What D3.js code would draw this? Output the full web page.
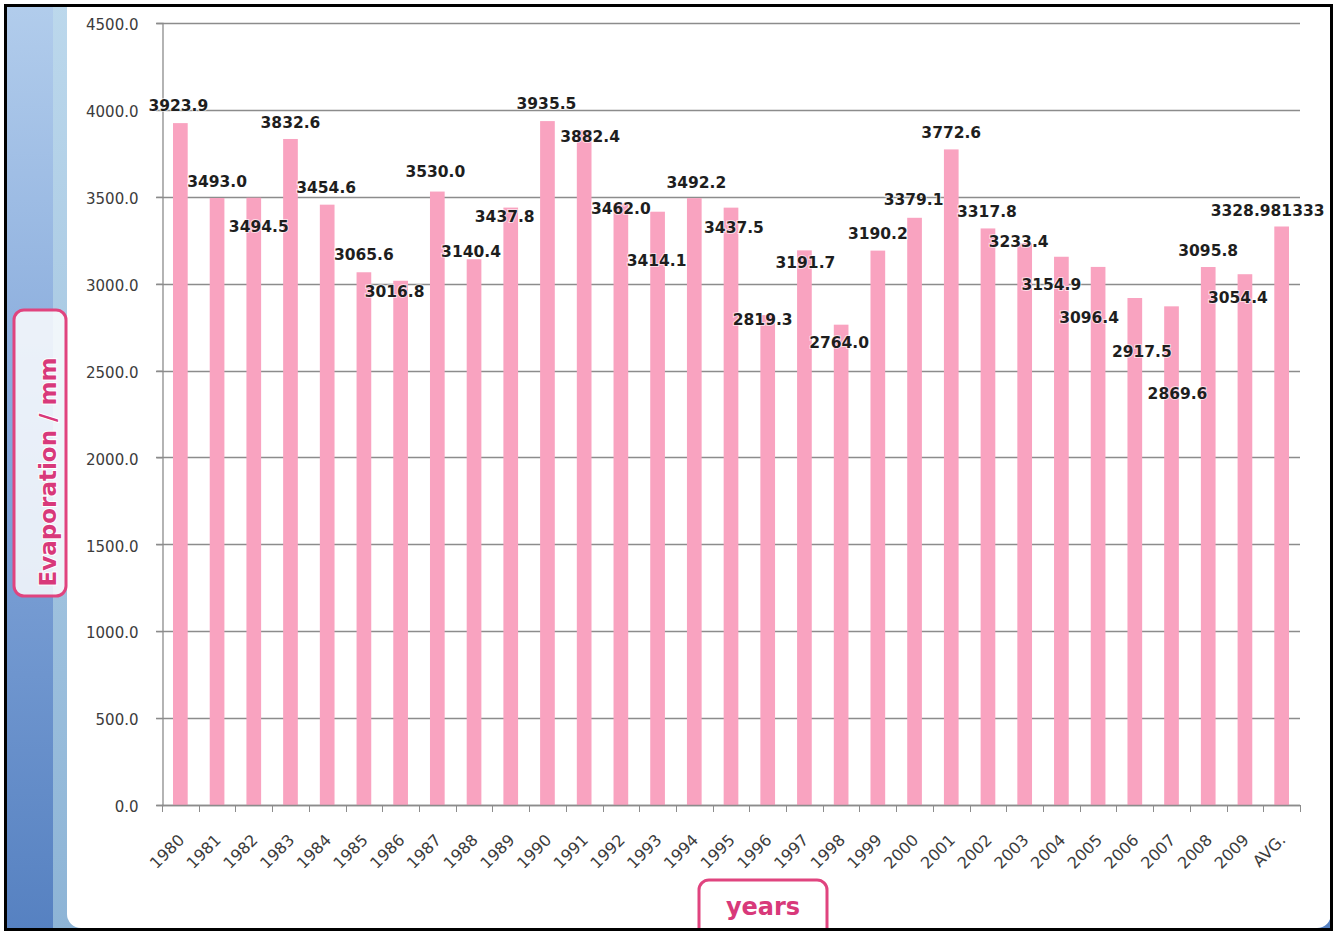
<!DOCTYPE html>
<html>
<head>
<meta charset="utf-8">
<script src="https://cdn.jsdelivr.net/npm/d3@7"></script>
<style>
body { margin: 0; background: #fff; }
</style>
</head>
<body>
<script>
var width = 1334;
var height = 931;

var years = ["1980", "1981", "1982", "1983", "1984", "1985", "1986", "1987", "1988", "1989",
             "1990", "1991", "1992", "1993", "1994", "1995", "1996", "1997", "1998", "1999",
             "2000", "2001", "2002", "2003", "2004", "2005", "2006", "2007", "2008", "2009", "AVG."];
var evaporation = [3923.9, 3493.0, 3494.5, 3832.6, 3454.6, 3065.6, 3016.8, 3530.0, 3140.4, 3437.8,
                   3935.5, 3882.4, 3462.0, 3414.1, 3492.2, 3437.5, 2819.3, 3191.7, 2764.0, 3190.2,
                   3379.1, 3772.6, 3317.8, 3233.4, 3154.9, 3096.4, 2917.5, 2869.6, 3095.8, 3054.4,
                   3328.981333];
var yTicks = [0, 500, 1000, 1500, 2000, 2500, 3000, 3500, 4000, 4500];

// the value labels were dragged by hand in the original, so nudge them (dx, dy in px)
var labelShift = [[-2, 0], [0, 1], [5, 47], [0, 1], [-1, 1], [0, 0], [-6, 29], [-2, -2], [-3, 10], [-6, 27],
                  [-1, 0], [6, 24], [0, 23], [-1, 67], [2, 2], [3, 38], [-5, 22], [1, 30], [-2, 36], [0, 1],
                  [-1, 0], [0, 1], [-1, 1], [-6, 16], [-10, 46], [-9, 69], [7, 71], [6, 105], [0, 1], [-7, 41],
                  [-14, 2]];

var pink = "#f9a3c0";
var titlePink = "#d8397a";

var svg = d3.select("body")
    .append("svg")
        .attr("width", width)
        .attr("height", height);

var defs = svg.append("defs");

var band = defs.append("linearGradient")
    .attr("id", "band")
    .attr("x1", 0).attr("y1", 0).attr("x2", 0).attr("y2", 1);
band.append("stop").attr("offset", "0%").attr("stop-color", "#b2cdec");
band.append("stop").attr("offset", "45%").attr("stop-color", "#86a9db");
band.append("stop").attr("offset", "100%").attr("stop-color", "#5681c1");

var strip = defs.append("linearGradient")
    .attr("id", "strip")
    .attr("x1", 0).attr("y1", 0).attr("x2", 0).attr("y2", 1);
strip.append("stop").attr("offset", "0%").attr("stop-color", "#bcd8ec");
strip.append("stop").attr("offset", "100%").attr("stop-color", "#8db4d6");

defs.append("clipPath")
    .attr("id", "inner")
  .append("rect")
    .attr("x", 7).attr("y", 7)
    .attr("width", 1325).attr("height", 922);

var bg = svg.append("g").attr("clip-path", "url(#inner)");

bg.append("rect")
    .attr("x", 0).attr("y", 0)
    .attr("width", width).attr("height", height)
    .attr("fill", "url(#band)");

bg.append("rect")
    .attr("x", 53).attr("y", 0)
    .attr("width", 30).attr("height", height)
    .attr("fill", "url(#strip)");

bg.append("rect")
    .attr("x", 67).attr("y", -20)
    .attr("width", 1264).attr("height", 948)
    .attr("rx", 14)
    .attr("fill", "#ffffff");

// scales
var x = d3.scaleBand()
    .domain(years)
    .range([162, 1300])
    .paddingInner(0.6)
    .paddingOuter(0.3);

var y = d3.scaleLinear()
    .domain([0, 4500])
    .range([805, 23]);

// gridlines
svg.append("g")
    .selectAll("line")
    .data(yTicks)
    .enter().append("line")
      .attr("x1", 156)
      .attr("x2", 1300)
      .attr("y1", function(d) { return Math.round(y(d)) + 0.5; })
      .attr("y2", function(d) { return Math.round(y(d)) + 0.5; })
      .attr("stroke", "#8c8c8c")
      .attr("stroke-width", 1.3);

// y axis
var yAxis = svg.append("g")
    .attr("transform", "translate(162.5,0)")
    .call(d3.axisLeft(y)
        .tickValues(yTicks)
        .tickFormat(d3.format(".1f"))
        .tickSize(6)
        .tickPadding(18));

yAxis.select(".domain").attr("stroke", "#8c8c8c").attr("stroke-width", 1.3);
yAxis.selectAll(".tick line").attr("stroke", "#8c8c8c");
yAxis.selectAll(".tick text")
    .attr("dy", "0.45em")
    .attr("fill", "#3c3c3c")
    .style("font-family", "'DejaVu Sans', sans-serif")
    .style("font-size", "15px");

// bars
svg.append("g")
    .selectAll("rect")
    .data(evaporation)
    .enter().append("rect")
      .attr("x", function(d, i) { return x(years[i]); })
      .attr("y", function(d) { return y(d); })
      .attr("width", x.bandwidth())
      .attr("height", function(d) { return y(0) - y(d); })
      .attr("fill", pink);

// x axis line + boundary ticks
var xg = svg.append("g");
xg.append("line")
    .attr("x1", 162).attr("x2", 1300)
    .attr("y1", 805.5).attr("y2", 805.5)
    .attr("stroke", "#8c8c8c")
    .attr("stroke-width", 1.3);

xg.selectAll("line.tk")
    .data(d3.range(years.length + 1))
    .enter().append("line")
      .attr("class", "tk")
      .attr("x1", function(i) { return Math.round(x.range()[0] + i * x.step()) + 0.5; })
      .attr("x2", function(i) { return Math.round(x.range()[0] + i * x.step()) + 0.5; })
      .attr("y1", 805)
      .attr("y2", 812)
      .attr("stroke", "#8c8c8c");

xg.selectAll("text")
    .data(years)
    .enter().append("text")
      .attr("transform", function(d) {
          return "translate(" + (x(d) + x.bandwidth() / 2 + 5) + ",841) rotate(-45)";
      })
      .attr("text-anchor", "end")
      .attr("fill", "#3c3c3c")
      .style("font-family", "'DejaVu Sans', sans-serif")
      .style("font-size", "16px")
      .text(function(d) { return d; });

// value labels
svg.append("g")
    .selectAll("text")
    .data(evaporation)
    .enter().append("text")
      .attr("x", function(d, i) { return x(years[i]) + x.bandwidth() / 2 + labelShift[i][0]; })
      .attr("y", function(d, i) { return y(d) - 18 + labelShift[i][1]; })
      .attr("dy", "0.36em")
      .attr("text-anchor", "middle")
      .attr("fill", "#1e1e1e")
      .attr("stroke", "#ffffff")
      .attr("stroke-opacity", 0.6)
      .attr("stroke-width", 2)
      .attr("paint-order", "stroke")
      .style("font-family", "'DejaVu Sans', sans-serif")
      .style("font-weight", "bold")
      .style("font-size", "15.5px")
      .text(function(d, i) { return i === evaporation.length - 1 ? String(d) : d.toFixed(1); });

// axis titles in rounded boxes
svg.append("rect")
    .attr("x", 14).attr("y", 310)
    .attr("width", 52).attr("height", 286)
    .attr("rx", 10)
    .attr("fill", "#ffffff")
    .attr("fill-opacity", 0.82)
    .attr("stroke", "#e0447f")
    .attr("stroke-width", 3);

svg.append("text")
    .attr("transform", "translate(56,472) rotate(-90)")
    .attr("text-anchor", "middle")
    .attr("fill", titlePink)
    .attr("stroke", "#ffffff")
    .attr("stroke-width", 2)
    .attr("paint-order", "stroke")
    .style("font-family", "'DejaVu Sans', sans-serif")
    .style("font-weight", "bold")
    .style("font-size", "23px")
    .text("Evaporation / mm");

var xt = svg.append("g").attr("clip-path", "url(#inner)");
xt.append("rect")
    .attr("x", 699).attr("y", 880)
    .attr("width", 128).attr("height", 60)
    .attr("rx", 10)
    .attr("fill", "#ffffff")
    .attr("stroke", "#e0447f")
    .attr("stroke-width", 3);

xt.append("text")
    .attr("x", 763)
    .attr("y", 915)
    .attr("text-anchor", "middle")
    .attr("fill", titlePink)
    .style("font-family", "'DejaVu Sans', sans-serif")
    .style("font-weight", "bold")
    .style("font-size", "24px")
    .text("years");

// outer frame
svg.append("rect")
    .attr("x", 5.5).attr("y", 5.5)
    .attr("width", 1326).attr("height", 924)
    .attr("fill", "none")
    .attr("stroke", "#000")
    .attr("stroke-width", 3);
</script>
</body>
</html>
